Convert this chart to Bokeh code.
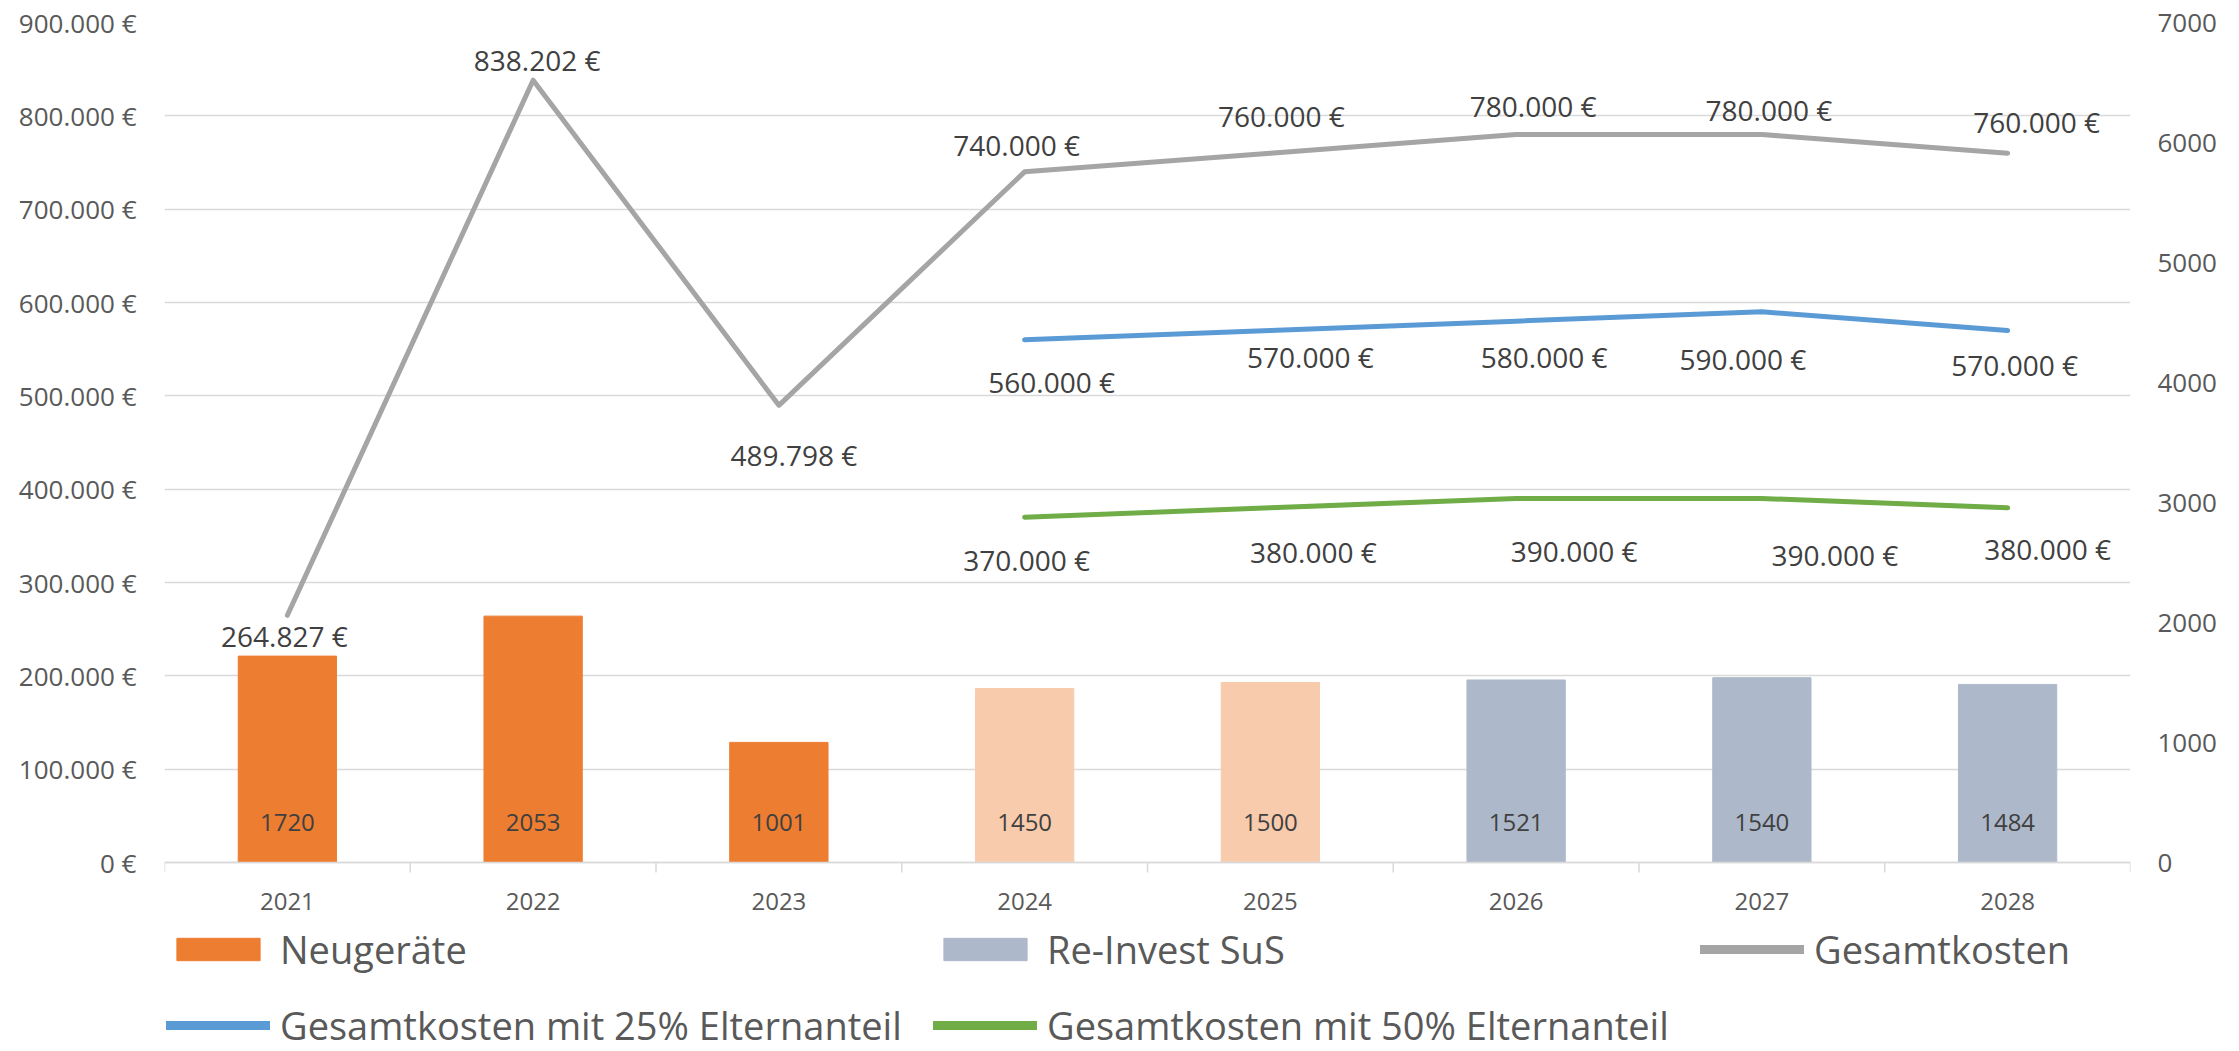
from bokeh.plotting import figure
from bokeh.models import (Range1d, LinearAxis, FixedTicker, Span,
                          ColumnDataSource, Legend, LegendItem, Grid)
from bokeh.core.properties import value
from bokeh.embed import file_html
from bokeh.resources import INLINE

# ---------------- data ----------------
years = ["2021", "2022", "2023", "2024", "2025", "2026", "2027", "2028"]
neugeraete = [1720, 2053, 1001, None, None, None, None, None]
neugeraete_plan = [None, None, None, 1450, 1500, None, None, None]
reinvest_sus = [None, None, None, None, None, 1521, 1540, 1484]
gesamtkosten = [264827, 838202, 489798, 740000, 760000, 780000, 780000, 760000]
kosten_25 = [None, None, None, 560000, 570000, 580000, 590000, 570000]
kosten_50 = [None, None, None, 370000, 380000, 390000, 390000, 380000]

left_ticks = [0, 100000, 200000, 300000, 400000, 500000, 600000, 700000, 800000, 900000]
right_ticks = [0, 1000, 2000, 3000, 4000, 5000, 6000, 7000]

# label nudges in screen px (x right, y down), as placed in the original
nudge_gesamt = [(-3, 21), (4, -20), (15, 50), (-8, -27), (11, -37), (17, -29), (7, -25), (29, -31)]
nudge_25 = [None, None, None, (27, 42), (40, 26), (28, 36), (-19, 47), (7, 34)]
nudge_50 = [None, None, None, (2, 43), (43, 44), (58, 52), (73, 56), (40, 41)]

FONT = "Open Sans"
C_NEU = "#ED7D31"
C_NEU_PLAN = "#F8CBAD"
C_RE = "#ADB9CA"
C_GES = "#A5A5A5"
C_25 = "#5B9BD5"
C_50 = "#70AD47"
GRID = "#D9D9D9"

# ---------------- geometry (pixels) ----------------
W, H = 2239, 1051
BORDER_L, BORDER_R, BORDER_T = 164, 109, 22
AXIS_PX = 840              # height of the value area (0 .. top tick)
BELOW_PX = H - BORDER_T - AXIS_PX   # room under the zero line for labels/legend
TICK_PX = 10

n = len(years)
centers = [i + 0.5 for i in range(n)]  # slot centre of each year on a 0..n axis
bounds = list(range(n + 1))
L_MAX, R_MAX = left_ticks[-1], right_ticks[-1]
y_lo = -L_MAX * BELOW_PX / AXIS_PX
r_lo = -R_MAX * BELOW_PX / AXIS_PX


def euro(v):
    return f"{int(v):,}".replace(",", ".") + " €"


p = figure(width=W, height=H, x_range=Range1d(0, n), y_range=Range1d(y_lo, L_MAX),
           output_backend="svg", toolbar_location=None,
           x_axis_location=None, y_axis_location=None,
           min_border_left=BORDER_L, min_border_right=BORDER_R, min_border_top=BORDER_T,
           min_border_bottom=0)
p.outline_line_color = None
p.background_fill_color = "white"
p.xgrid.visible = False
p.ygrid.visible = False
p.extra_y_ranges = {"cnt": Range1d(r_lo, R_MAX)}

p.add_layout(Grid(dimension=1, ticker=FixedTicker(ticks=left_ticks),
                  grid_line_color=GRID, grid_line_width=1.5))

# left axis
yax = LinearAxis(ticker=FixedTicker(ticks=left_ticks),
                 major_label_overrides={t: euro(t) for t in left_ticks},
                 axis_line_color=None, major_tick_line_color=None, minor_tick_line_color=None,
                 major_tick_out=0, major_tick_in=0, major_label_standoff=28,
                 major_label_text_font=FONT, major_label_text_font_size="26px",
                 major_label_text_color="#595959")
p.add_layout(yax, "left")

# right axis
rax = LinearAxis(y_range_name="cnt", ticker=FixedTicker(ticks=right_ticks),
                 major_label_overrides={t: str(t) for t in right_ticks},
                 axis_line_color=None, major_tick_line_color=None, minor_tick_line_color=None,
                 major_tick_out=0, major_tick_in=0, major_label_standoff=27,
                 major_label_text_font=FONT, major_label_text_font_size="26px",
                 major_label_text_color="#595959")
p.add_layout(rax, "right")

# category axis: base line, boundary ticks, year labels
p.add_layout(Span(location=0, dimension="width", line_color=GRID, line_width=1.5))
tick_len = L_MAX * TICK_PX / AXIS_PX
p.segment(x0=bounds, y0=[0] * len(bounds), x1=bounds, y1=[-tick_len] * len(bounds),
          line_color=GRID, line_width=1.5)
p.text(x=centers, y=[0] * n, text=years, y_offset=39,
       text_font=value(FONT), text_font_size="24px", text_color="#595959",
       text_align="center", text_baseline="middle")


def subset(vals):
    xs = [c for c, v in zip(centers, vals) if v is not None]
    ys = [v for v in vals if v is not None]
    return xs, ys


# bars (right axis)
bar_renderers = {}
for name, vals, col in [("neu", neugeraete, C_NEU), ("plan", neugeraete_plan, C_NEU_PLAN),
                        ("re", reinvest_sus, C_RE)]:
    xs, ys = subset(vals)
    bar_renderers[name] = p.vbar(x=xs, top=ys, bottom=0, width=0.4, y_range_name="cnt",
                                 fill_color=col, line_color=col)

# bar labels
bar_vals = [a if a is not None else (b if b is not None else c)
            for a, b, c in zip(neugeraete, neugeraete_plan, reinvest_sus)]
bsrc = ColumnDataSource(dict(x=centers, y=[0] * n, text=[str(v) for v in bar_vals]))
p.text(x="x", y="y", text="text", source=bsrc, y_range_name="cnt", y_offset=-40,
       text_font=value(FONT), text_font_size="24px", text_color="#404040",
       text_align="center", text_baseline="middle")

# lines
for vals, col in [(gesamtkosten, C_GES), (kosten_25, C_25), (kosten_50, C_50)]:
    xs, ys = subset(vals)
    p.line(x=xs, y=ys, line_width=5, line_color=col, line_cap="round", line_join="round")

# line labels
for vals, nudges in [(gesamtkosten, nudge_gesamt), (kosten_25, nudge_25), (kosten_50, nudge_50)]:
    xs, ys = subset(vals)
    ns = [q for q in nudges if q is not None]
    src = ColumnDataSource(dict(x=xs, y=ys, text=[euro(v) for v in ys],
                                xo=[q[0] for q in ns], yo=[q[1] for q in ns]))
    p.text(x="x", y="y", text="text", x_offset="xo", y_offset="yo", source=src,
           text_font=value(FONT), text_font_size="28px", text_color="#404040",
           text_align="center", text_baseline="middle")

# legend glyph stand-ins for the lines (thicker strokes as in the original legend);
# their points are NaN so nothing is drawn in the plot itself
nan = float("nan")
leg_ges = p.line(x=[nan, nan], y=[nan, nan], line_width=9, line_color=C_GES, line_cap="round")
leg_25 = p.line(x=[nan, nan], y=[nan, nan], line_width=9, line_color=C_25, line_cap="round")
leg_50 = p.line(x=[nan, nan], y=[nan, nan], line_width=9, line_color=C_50, line_cap="round")

legend = Legend(items=[
    LegendItem(label="Neugeräte", renderers=[bar_renderers["neu"]]),
    LegendItem(label="Re-Invest SuS", renderers=[bar_renderers["re"]]),
    LegendItem(label="Gesamtkosten", renderers=[leg_ges]),
    LegendItem(label="Gesamtkosten mit 25% Elternanteil", renderers=[leg_25]),
    LegendItem(label="Gesamtkosten mit 50% Elternanteil", renderers=[leg_50]),
], location=(2, 0), orientation="horizontal", ncols=3,
    glyph_width=104, glyph_height=28, label_standoff=10, spacing=24, label_width=629,
    padding=0, margin=0, border_line_color=None, background_fill_alpha=0,
    label_text_font=FONT, label_text_font_size="38px", label_text_color="#595959")
p.add_layout(legend, "center")

with open("out.html", "w", encoding="utf-8") as f:
    f.write(file_html(p, INLINE))
